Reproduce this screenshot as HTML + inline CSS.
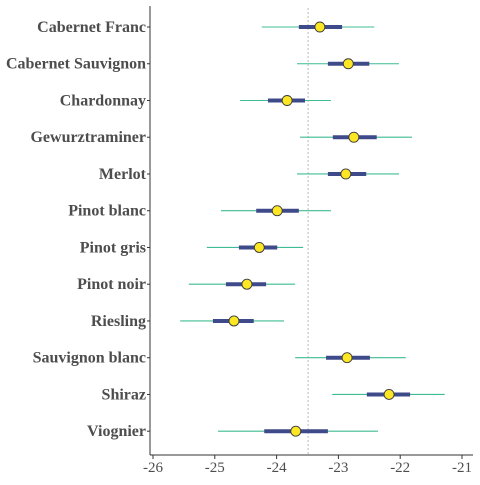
<!DOCTYPE html>
<html><head><meta charset="utf-8"><style>
html,body{margin:0;padding:0;background:#fff;}
svg text{font-family:"Liberation Serif",serif;}
</style></head><body>
<svg id="chart" width="480" height="480" xmlns="http://www.w3.org/2000/svg"></svg>
<script>
const categories=["Cabernet Franc","Cabernet Sauvignon","Chardonnay","Gewurztraminer","Merlot","Pinot blanc","Pinot gris","Pinot noir","Riesling","Sauvignon blanc","Shiraz","Viognier"];
const pointValues=[-23.30,-22.84,-23.83,-22.75,-22.88,-23.99,-24.28,-24.48,-24.69,-22.86,-22.18,-23.69];
const innerLow=[-23.64,-23.17,-24.14,-23.09,-23.17,-24.33,-24.61,-24.82,-25.03,-23.20,-22.54,-24.20];
const innerHigh=[-22.94,-22.50,-23.54,-22.38,-22.55,-23.64,-23.99,-24.17,-24.37,-22.49,-21.84,-23.17];
const outerLow=[-24.24,-23.67,-24.59,-23.62,-23.67,-24.90,-25.13,-25.42,-25.56,-23.70,-23.10,-24.95];
const outerHigh=[-22.42,-22.02,-23.12,-21.81,-22.02,-23.12,-23.57,-23.70,-23.88,-21.91,-21.28,-22.36];
const refValue=-23.49;
const xTicks=[-26,-25,-24,-23,-22,-21];

const svg=document.getElementById('chart');
const NS="http://www.w3.org/2000/svg";
const x=v=>153+(v+26)*61.8;
const y=i=>27+i*36.745;
function mk(tag,attrs){const e=document.createElementNS(NS,tag);for(const k in attrs)e.setAttribute(k,attrs[k]);svg.appendChild(e);return e;}

let e=mk('line',{x1:x(refValue),x2:x(refValue),y1:8,y2:455,stroke:'#bbb','stroke-dasharray':'2,2','stroke-width':1});



categories.forEach((c,i)=>{
  let t=mk('line',{x1:x(outerLow[i]),x2:x(outerHigh[i]),y1:y(i),y2:y(i),stroke:'#3fbc93','stroke-width':1.1});
  
  
  let k=mk('line',{x1:x(innerLow[i]),x2:x(innerHigh[i]),y1:y(i),y2:y(i),stroke:'#3e4a89','stroke-width':4});
  
  
  let p=mk('circle',{cx:x(pointValues[i]),cy:y(i),r:5,fill:'#fde725',stroke:'#3a3a3a','stroke-width':0.9});
  
  
  let l=mk('text',{x:146,y:y(i)+5,'text-anchor':'end','font-size':16,'font-weight':'bold',fill:'#4d4d4d'});
  l.textContent=c;
  
  
  let tk=mk('line',{x1:147,x2:150,y1:y(i),y2:y(i),stroke:'#333','stroke-width':1});
  
  
});

e=mk('line',{x1:150,x2:150,y1:6,y2:455,stroke:'#333','stroke-width':1});


e=mk('line',{x1:150,x2:473,y1:455,y2:455,stroke:'#333','stroke-width':1});



xTicks.forEach(v=>{
  let tk=mk('line',{x1:x(v),x2:x(v),y1:455,y2:459,stroke:'#333','stroke-width':1});
  
  
  let t=mk('text',{x:x(v),y:472,'text-anchor':'middle','font-size':15,fill:'#4d4d4d'});
  t.textContent=v;
  
  
});
</script>
</body></html>
